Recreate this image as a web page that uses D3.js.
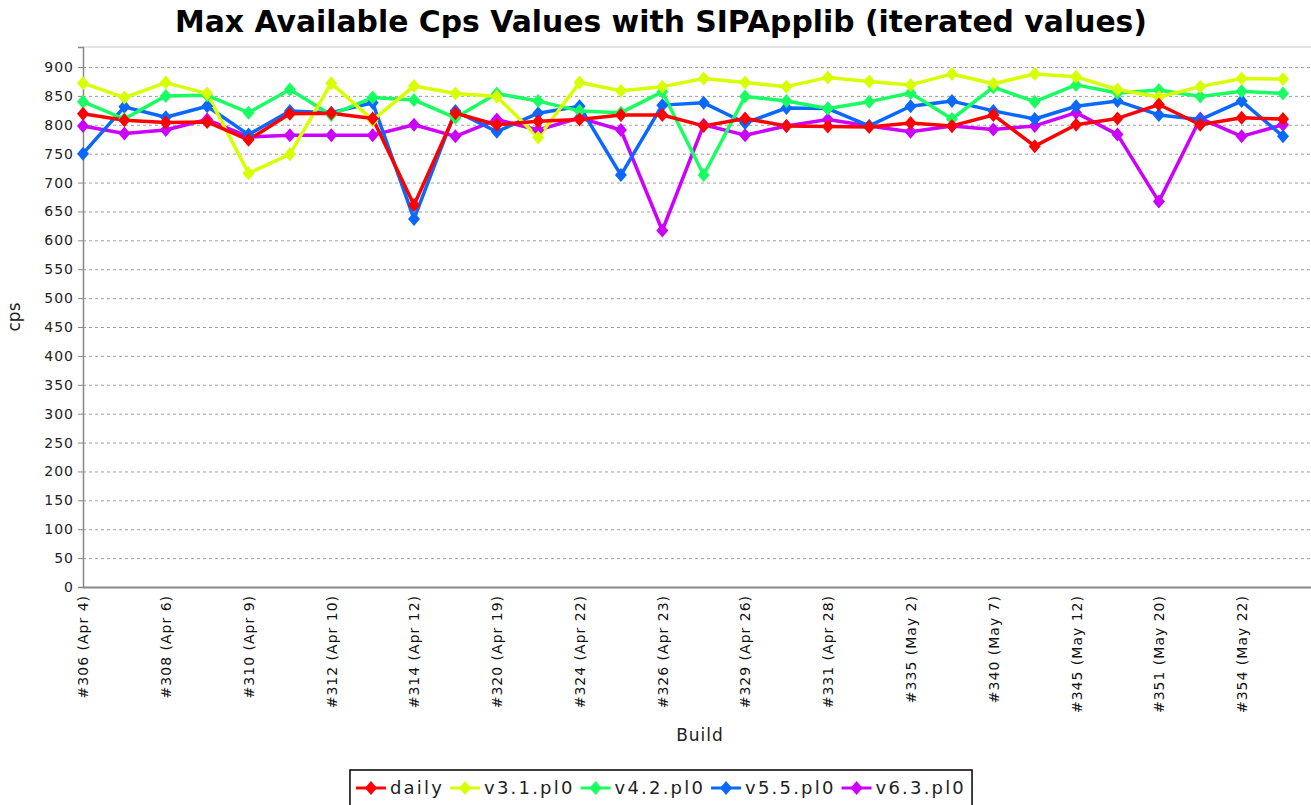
<!DOCTYPE html>
<html>
<head>
<meta charset="utf-8">
<script src="https://cdn.jsdelivr.net/npm/d3@7"></script>
<style>
    body { margin: 0; background: #fff; }
    svg { display: block; font-family: 'DejaVu Sans', sans-serif; }
</style>
</head>
<body>
<svg id="chart"></svg>
<script>
const builds = [
    '#306 (Apr 4)', '#307 (Apr 5)', '#308 (Apr 6)', '#309 (Apr 7)', '#310 (Apr 9)',
    '#311 (Apr 9)', '#312 (Apr 10)', '#313 (Apr 11)', '#314 (Apr 12)', '#316 (Apr 16)',
    '#320 (Apr 19)', '#322 (Apr 20)', '#324 (Apr 22)', '#325 (Apr 23)', '#326 (Apr 23)',
    '#328 (Apr 25)', '#329 (Apr 26)', '#330 (Apr 27)', '#331 (Apr 28)', '#333 (Apr 30)',
    '#335 (May 2)', '#338 (May 5)', '#340 (May 7)', '#343 (May 10)', '#345 (May 12)',
    '#348 (May 16)', '#351 (May 20)', '#352 (May 21)', '#354 (May 22)', '#356 (May 24)'
];

const daily = [819, 808, 804, 805, 774, 819, 820, 811, 661, 820, 800, 806, 809, 817, 817,
    798, 811, 798, 797, 796, 803, 798, 817, 763, 800, 811, 835, 800, 812, 810];
const v31 = [872, 847, 873, 854, 716, 749, 872, 808, 867, 854, 849, 778, 873, 859, 866,
    880, 873, 866, 882, 875, 869, 888, 871, 888, 883, 861, 848, 866, 880, 879];
const v42 = [840, 810, 850, 851, 821, 861, 817, 847, 843, 812, 854, 841, 824, 821, 857,
    713, 849, 841, 828, 840, 855, 810, 865, 840, 869, 855, 860, 849, 858, 854];
const v55 = [750, 831, 813, 832, 783, 824, 821, 838, 637, 824, 788, 820, 832, 713, 834,
    838, 803, 829, 828, 798, 832, 841, 824, 810, 832, 841, 817, 809, 841, 780];
const v63 = [798, 785, 791, 809, 779, 782, 782, 782, 800, 780, 809, 791, 812, 791, 617,
    800, 782, 798, 809, 798, 788, 798, 792, 798, 821, 783, 667, 811, 780, 800];

const seriesNames = ['daily', 'v3.1.pl0', 'v4.2.pl0', 'v5.5.pl0', 'v6.3.pl0'];
const seriesColors = ['#ff0000', '#d8ff00', '#18ff62', '#0a68ff', '#cc00ff'];
const yTicks = d3.range(0, 901, 50);

const series = [daily, v31, v42, v55, v63].map((values, i) => ({
    name: seriesNames[i],
    color: seriesColors[i],
    values: values
}));

const dimensions = {
    width: 1311,
    height: 805,
    plot: { left: 83, right: 1311, top: 47, bottom: 587 }
};

const svg = d3.select('#chart')
    .attr('width', dimensions.width)
    .attr('height', dimensions.height);

const scales = {
    x: d3.scalePoint().domain(builds).range([83, 1283]),
    y: d3.scaleLinear().domain([0, 934.6]).range([dimensions.plot.bottom, dimensions.plot.top])
};

// title
svg.append('text')
    .attr('x', 661)
    .attr('y', 32)
    .attr('text-anchor', 'middle')
    .attr('textLength', 972)
    .attr('lengthAdjust', 'spacingAndGlyphs')
    .style('font-size', '30px')
    .style('font-weight', 'bold')
    .text('Max Available Cps Values with SIPApplib (iterated values)');

// plot frame + grid
const p = dimensions.plot;
svg.append('line')
    .attr('x1', p.left).attr('x2', p.right)
    .attr('y1', p.top).attr('y2', p.top)
    .attr('stroke', '#c8c8c8');

svg.append('g')
    .selectAll('line.grid')
    .data(yTicks.filter(d => d > 0))
    .join('line')
    .classed('grid', true)
    .attr('x1', p.left).attr('x2', p.right)
    .attr('y1', d => scales.y(d) + 0.5)
    .attr('y2', d => scales.y(d) + 0.5)
    .attr('stroke', '#a0a0a0')
    .attr('stroke-dasharray', '3,3');

const yAxis = d3.axisLeft(scales.y)
    .tickValues(yTicks)
    .tickSize(5)
    .tickPadding(4);
const elYAxis = svg.append('g')
    .attr('transform', `translate(${p.left},0)`)
    .call(yAxis);
elYAxis.select('.domain').attr('stroke', '#888').attr('stroke-width', 1.5);
elYAxis.selectAll('.tick line').attr('stroke', '#888');
elYAxis.selectAll('.tick text')
    .style('font-size', '14px')
    .style('letter-spacing', '1px')
    .style('font-family', "'DejaVu Sans', sans-serif")
    .attr('fill', '#222');

const xAxis = d3.axisBottom(scales.x)
    .tickSize(0)
    .tickFormat((d, i) => i % 2 === 0 ? d : '');
const elXAxis = svg.append('g')
    .attr('transform', `translate(0,${p.bottom})`)
    .call(xAxis);
elXAxis.select('.domain')
    .attr('d', `M${p.left},0.5H${p.right}`)
    .attr('stroke', '#888')
    .attr('stroke-width', 2);
elXAxis.selectAll('.tick text')
    .attr('transform', 'rotate(-90)')
    .attr('text-anchor', 'end')
    .attr('x', -8)
    .attr('y', 0)
    .attr('dy', '0.35em')
    .style('font-size', '14px')
    .style('letter-spacing', '1px')
    .style('font-family', "'DejaVu Sans', sans-serif")
    .attr('fill', '#111');

// axis titles
svg.append('text')
    .attr('transform', `translate(20,${(p.top + p.bottom) / 2}) rotate(-90)`)
    .attr('text-anchor', 'middle')
    .style('font-size', '17px')
    .attr('fill', '#222')
    .text('cps');

svg.append('text')
    .attr('x', 700)
    .attr('y', 741)
    .attr('text-anchor', 'middle')
    .style('font-size', '17px')
    .style('letter-spacing', '1px')
    .attr('fill', '#222')
    .text('Build');

// diamond marker
function diamond(cx, cy, w, h) {
    return `M${cx},${cy - h}L${cx + w},${cy}L${cx},${cy + h}L${cx - w},${cy}Z`;
}

const line = d3.line()
    .x((d, i) => scales.x(builds[i]))
    .y(d => scales.y(d));

// lines first, then shapes (series drawn in reverse)
const drawOrder = series.slice().reverse();
svg.append('g')
    .selectAll('path.series')
    .data(drawOrder)
    .join('path')
    .classed('series', true)
    .attr('d', s => line(s.values))
    .attr('fill', 'none')
    .attr('stroke', s => s.color)
    .attr('stroke-width', 3.5)
    .attr('stroke-linejoin', 'round');

svg.append('g')
    .selectAll('g.marks')
    .data(drawOrder)
    .join('g')
    .classed('marks', true)
    .attr('fill', s => s.color)
    .selectAll('path')
    .data(s => s.values)
    .join('path')
    .attr('d', (d, i) => diamond(scales.x(builds[i]), scales.y(d), 6, 7));

// legend
const elLegend = svg.append('g');
const legendItems = elLegend.selectAll('g.item')
    .data(series)
    .join('g')
    .classed('item', true);
legendItems.append('line')
    .attr('x1', 0).attr('x2', 30)
    .attr('y1', 0).attr('y2', 0)
    .attr('stroke', s => s.color)
    .attr('stroke-width', 3);
legendItems.append('path')
    .attr('d', diamond(15, 0, 6, 7))
    .attr('fill', s => s.color);
legendItems.append('text')
    .attr('x', 34)
    .attr('dy', '0.35em')
    .style('font-size', '18px')
    .style('letter-spacing', '2.2px')
    .attr('fill', '#222')
    .text(s => s.name);

let offset = 0;
legendItems.each(function () {
    const g = d3.select(this);
    g.attr('transform', `translate(${offset},0)`);
    offset += 34 + g.select('text').node().getComputedTextLength() + 6;
});
const legendWidth = offset - 6 + 8;
const legendX = 661 - legendWidth / 2;
elLegend.attr('transform', `translate(${legendX + 4},788)`);
svg.insert('rect', 'g')
    .attr('x', legendX - 2)
    .attr('y', 770)
    .attr('width', legendWidth + 4)
    .attr('height', 40)
    .attr('fill', 'none')
    .attr('stroke', '#000')
    .attr('stroke-width', 1.5);
</script>
</body>
</html>
